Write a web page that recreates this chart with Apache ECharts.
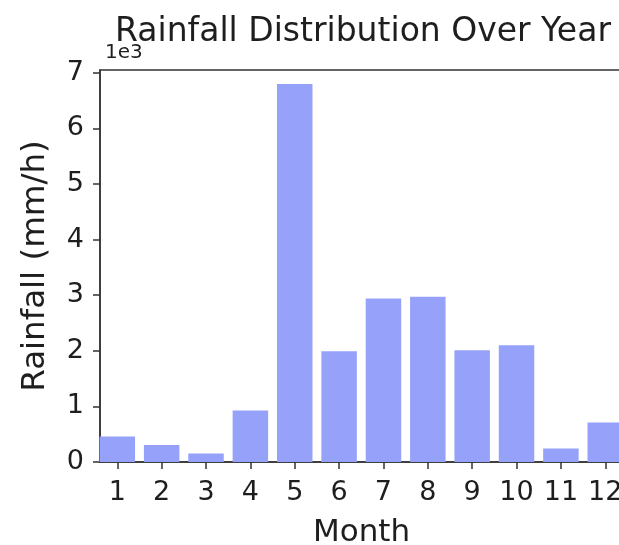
<!DOCTYPE html>
<html>
<head>
<meta charset="utf-8">
<script src="https://cdn.jsdelivr.net/npm/echarts@6/dist/echarts.min.js"></script>
<style>
  html, body { margin: 0; padding: 0; background: #fff; overflow: hidden; }
  #chart { width: 619px; height: 545px; }
</style>
</head>
<body>
<div id="chart"></div>
<script>
// Monthly rainfall (mm/h)
const months = ['1', '2', '3', '4', '5', '6', '7', '8', '9', '10', '11', '12'];
const rainfall = [460, 305, 155, 925, 6800, 1990, 2940, 2970, 2010, 2100, 245, 710];
const yTicks = [0, 1000, 2000, 3000, 4000, 5000, 6000, 7000];

const FONT = 'DejaVu Sans';
const INK = '#1e1e1e';
const SPINE = '#333';

const positions = months.map((_, i) => i);

const chart = echarts.init(document.getElementById('chart'), null, { renderer: 'canvas' });
chart.setOption({
  animation: false,
  backgroundColor: '#fff',
  title: [
    {
      text: 'Rainfall Distribution Over Year',
      left: 358, textAlign: 'center', top: 11,
      textStyle: { fontFamily: FONT, fontSize: 33, fontWeight: 'normal', color: INK }
    },
    {
      text: '1e3',
      left: 100, top: 38,
      textStyle: { fontFamily: FONT, fontSize: 20, fontWeight: 'normal', color: INK }
    }
  ],
  grid: {
    left: 100, top: 70, right: -4, bottom: 83,
    outerBoundsMode: 'none',
    show: true, borderColor: SPINE, borderWidth: 1.5, backgroundColor: 'transparent'
  },
  xAxis: {
    type: 'value',
    min: -0.39, max: 11.4,
    name: 'Month', nameLocation: 'middle', nameGap: 55,
    nameTextStyle: { fontFamily: FONT, fontSize: 31, color: INK },
    axisLine: { show: true, lineStyle: { color: SPINE, width: 1.5 } },
    axisTick: { show: true, length: 7, customValues: positions, lineStyle: { color: SPINE, width: 1.5 } },
    axisLabel: {
      customValues: positions,
      formatter: v => months[Math.round(v)],
      fontFamily: FONT, fontSize: 27, color: INK, margin: 17
    },
    splitLine: { show: false }
  },
  yAxis: {
    type: 'value',
    min: 0, max: 7050, interval: 1000,
    name: 'Rainfall (mm/h)', nameLocation: 'middle', nameGap: 48,
    nameTextStyle: { fontFamily: FONT, fontSize: 32.5, color: INK },
    axisLine: { show: true, onZero: false, lineStyle: { color: SPINE, width: 1.5 } },
    axisTick: { show: true, length: 7, customValues: yTicks, lineStyle: { color: SPINE, width: 1.5 } },
    axisLabel: {
      customValues: yTicks,
      formatter: v => String(v / 1000),
      fontFamily: FONT, fontSize: 27, color: INK, margin: 16
    },
    splitLine: { show: false }
  },
  series: [{
    type: 'bar',
    data: rainfall.map((v, i) => [positions[i], v]),
    barWidth: '80%',
    itemStyle: { color: '#96a2fa' },
    clip: true
  }]
});
</script>
</body>
</html>
